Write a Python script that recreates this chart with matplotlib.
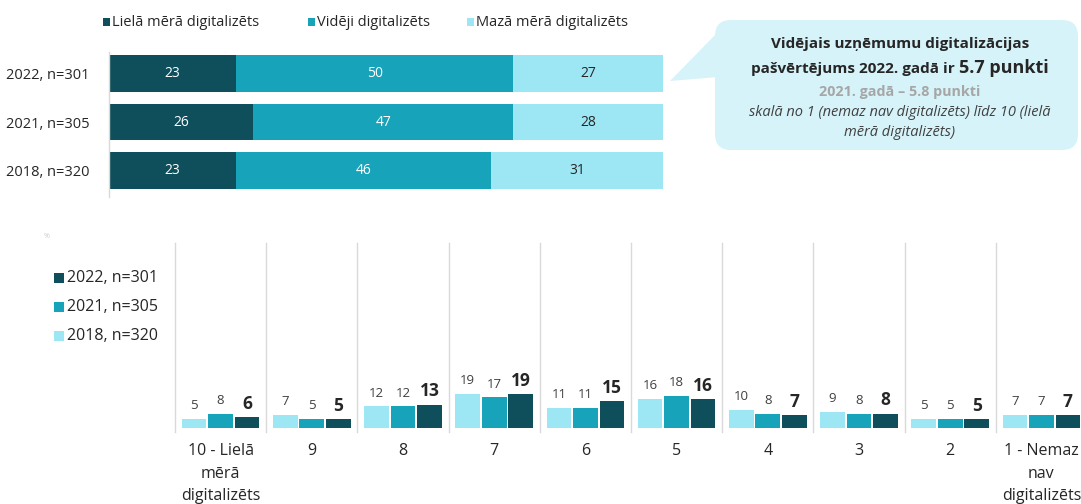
import matplotlib
matplotlib.use("Agg")
import matplotlib.pyplot as plt
import numpy as np
from matplotlib.patches import FancyBboxPatch, Polygon, Rectangle

plt.rcParams['font.family'] = ['Open Sans', 'DejaVu Sans']

# ---------------- data ----------------
top_years = ["2022, n=301", "2021, n=305", "2018, n=320"]
top_series = ["Lielā mērā digitalizēts", "Vidēji digitalizēts", "Mazā mērā digitalizēts"]
liela = [23, 26, 23]
videji = [50, 47, 46]
maza = [27, 28, 31]

bottom_cats = ["10 - Lielā\nmērā\ndigitalizēts", "9", "8", "7", "6", "5", "4", "3", "2",
               "1 - Nemaz\nnav\ndigitalizēts"]
bottom_series = ["2018, n=320", "2021, n=305", "2022, n=301"]
v2018 = [5, 7, 12, 19, 11, 16, 10, 9, 5, 7]
v2021 = [8, 5, 12, 17, 11, 18, 8, 8, 5, 7]
v2022 = [6, 5, 13, 19, 15, 16, 7, 8, 5, 7]

callout_l1 = "Vidējais uzņēmumu digitalizācijas"
callout_l2a = "pašvērtējums 2022. gadā ir "
callout_l2b = "5.7 punkti"
callout_l3 = "2021. gadā – 5.8 punkti"
callout_l4 = "skalā no 1 (nemaz nav digitalizēts) līdz 10 (lielā"
callout_l5 = "mērā digitalizēts)"

# ---------------- style ----------------
DARK = "#0e4f5b"
MID = "#17a3b9"
LIGHT = "#9de6f3"
TXT = "#262626"
GRID = "#d9d9d9"

W, H = 1081, 504
fig = plt.figure(figsize=(W / 100, H / 100), dpi=100)


def fx(px):
    return px / W


def fy(py):
    return 1 - py / H


# ---------------- top legend ----------------
leg_x = [103, 308, 467]
for x, lab, col in zip(leg_x, top_series, [DARK, MID, LIGHT]):
    fig.patches.append(Rectangle((fx(x), fy(26)), 7 / W, 8 / H, transform=fig.transFigure,
                                 facecolor=col, edgecolor='none'))
    fig.text(fx(x + 9), fy(22), lab, fontsize=10.5, color=TXT, va='center', ha='left')

# ---------------- top stacked bar ----------------
ax1 = fig.add_axes([fx(109), fy(197), (663 - 109) / W, (197 - 52) / H])
y = np.arange(len(top_years))
left = np.zeros(len(top_years))
for vals, col, tcol in [(liela, DARK, 'white'), (videji, MID, 'white'), (maza, LIGHT, TXT)]:
    bars = ax1.barh(y, vals, left=left, height=0.76, color=col, edgecolor='none')
    ax1.bar_label(bars, labels=[str(v) for v in vals], label_type='center',
                  color=tcol, fontsize=10)
    left = left + np.array(vals)
ax1.set_xlim(0, 100)
ax1.set_ylim(2.55, -0.45)
ax1.set_yticks(y)
ax1.set_yticklabels(top_years, fontsize=10.5, color=TXT)
ax1.tick_params(axis='y', length=0, pad=14)
ax1.set_xticks([])
for s in ['top', 'right', 'bottom']:
    ax1.spines[s].set_visible(False)
ax1.spines['left'].set_color(GRID)
ax1.spines['left'].set_linewidth(1)


# ---------------- callout ----------------
def inch(px, py):
    return (px / 100, (H - py) / 100)


box_fc = "#d6f3f9"
poly = Polygon([inch(718, 32), inch(670, 81), inch(718, 77)], closed=True,
               transform=fig.dpi_scale_trans, facecolor=box_fc, edgecolor='none')
fig.patches.append(poly)
bx, by = inch(715, 150)
box = FancyBboxPatch((bx, by), (1078 - 715) / 100, 130 / 100,
                     boxstyle="round,pad=0,rounding_size=0.16",
                     transform=fig.dpi_scale_trans, facecolor=box_fc, edgecolor='none')
fig.patches.append(box)
cx = 900
fig.text(fx(cx), fy(44), callout_l1, fontsize=11, fontweight='bold', color=TXT,
         ha='center', va='center')
t2a = fig.text(0, fy(73), callout_l2a, fontsize=11, fontweight='bold', color=TXT,
               ha='left', va='baseline')
t2b = fig.text(0, fy(73), callout_l2b, fontsize=13, fontweight='bold', color=TXT,
               ha='left', va='baseline')
fig.text(fx(cx), fy(92), callout_l3, fontsize=10.3, fontweight='bold', color="#a6a6a6",
         ha='center', va='center')
fig.text(fx(cx), fy(113), callout_l4, fontsize=10.5, style='italic', color="#404040",
         ha='center', va='center')
fig.text(fx(cx), fy(133), callout_l5, fontsize=10.5, style='italic', color="#404040",
         ha='center', va='center')

# ---------------- bottom grouped bars ----------------
ax2 = fig.add_axes([fx(175), fy(428), 912 / W, (428 - 243) / H])
x = np.arange(len(bottom_cats))
w = 0.27
off = 0.29
b1 = ax2.bar(x - off, v2018, width=w, color=LIGHT, edgecolor='none', label=bottom_series[0])
b2 = ax2.bar(x, v2021, width=w, color=MID, edgecolor='none', label=bottom_series[1])
b3 = ax2.bar(x + off, v2022, width=w, color=DARK, edgecolor='none', label=bottom_series[2])
ax2.bar_label(b1, padding=5, fontsize=9.5, color="#404040")
ax2.bar_label(b2, padding=5, fontsize=9.5, color="#404040")
ax2.bar_label(b3, padding=3, fontsize=12.5, fontweight='bold', color=TXT)
ax2.set_xlim(-0.5, len(bottom_cats) - 0.5)
ax2.set_ylim(0, 103)
for k in range(len(bottom_cats) + 1):
    ax2.axvline(k - 0.5, ymin=-0.02, ymax=1, color=GRID, linewidth=1, clip_on=False, zorder=0)
ax2.set_xticks(x)
ax2.set_xticklabels(bottom_cats, fontsize=11.5, color=TXT, linespacing=1.55)
ax2.tick_params(axis='x', length=0, pad=11)
ax2.set_yticks([])
for s in ['top', 'right', 'bottom', 'left']:
    ax2.spines[s].set_visible(False)

# bottom legend (2022 first)
leg_rows = [(278, DARK, bottom_series[2]), (307, MID, bottom_series[1]), (336, LIGHT, bottom_series[0])]
for py, col, lab in leg_rows:
    fig.patches.append(Rectangle((fx(54), fy(py + 5)), 10 / W, 10 / H, transform=fig.transFigure,
                                 facecolor=col, edgecolor='none'))
    fig.text(fx(67), fy(py), lab, fontsize=11.5, color=TXT, va='center', ha='left')

fig.text(fx(47), fy(237), "%", fontsize=5, color="#cccccc", va='center', ha='center')

# center the mixed-size second callout line
renderer = fig.canvas.get_renderer()
wa = t2a.get_window_extent(renderer).width
wb = t2b.get_window_extent(renderer).width
start = cx - (wa + wb) / 2
t2a.set_x(fx(start))
t2b.set_x(fx(start + wa))

fig.savefig("out.png", dpi=100)
